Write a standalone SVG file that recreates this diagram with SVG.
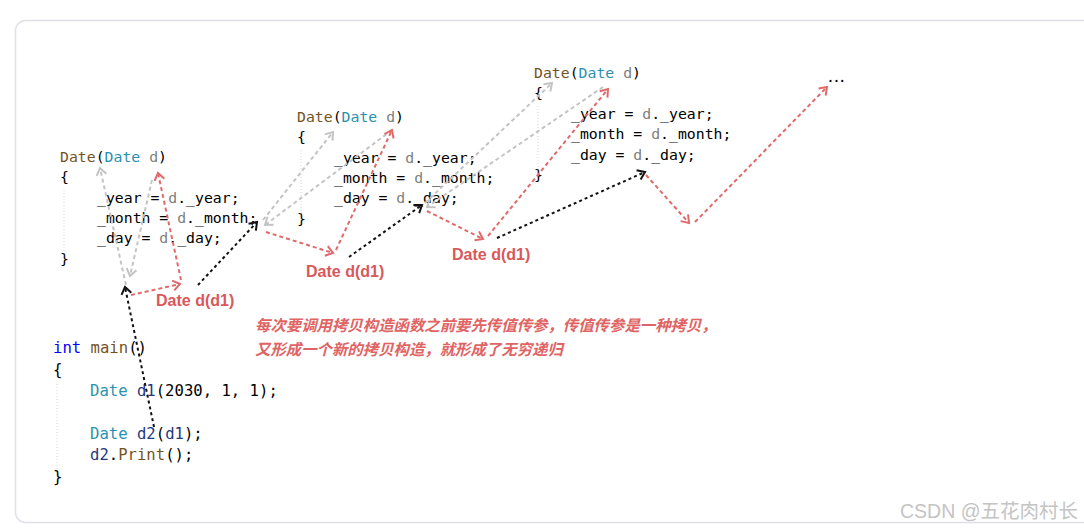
<svg xmlns="http://www.w3.org/2000/svg" width="1084" height="529" viewBox="0 0 1084 529">
<style>
.code{font-family:"DejaVu Sans Mono","Liberation Mono",monospace;font-size:14.8px;fill:#000;white-space:pre}
.big{font-size:15.6px}
.fn{fill:#74531f}.ty{fill:#2b91af}.pa{fill:#808080}.kw{fill:#0000ff}.lv{fill:#1f377f}
.guide{stroke:#d6d6d6;stroke-width:1;stroke-dasharray:1 2;fill:none}
.g{stroke:#c4c4c4;stroke-width:2;stroke-dasharray:4 3;fill:none;marker-end:url(#mg)}
.r{stroke:#e06a6a;stroke-width:2;stroke-dasharray:4 3;fill:none;marker-end:url(#mr)}
.b{stroke:#111;stroke-width:2;stroke-dasharray:3 3;fill:none;marker-end:url(#mb)}
.lbl{font-family:"Liberation Sans",Arial,sans-serif;font-weight:bold;font-size:16px;fill:#d9585a}
.note{font-family:"Noto Sans CJK SC",sans-serif;font-weight:bold;font-style:italic;font-size:15.4px;fill:#e06464}
.wm{font-family:"Liberation Sans","Noto Sans CJK SC",sans-serif;font-size:19.5px;fill:#c4c4c4}
</style>
<defs>
<marker id="mg" markerUnits="userSpaceOnUse" markerWidth="20" markerHeight="20" refX="0" refY="0" orient="auto" overflow="visible"><path d="M-7,-5 L0,0 L-7,5" fill="none" stroke="#c4c4c4" stroke-width="2" stroke-dasharray="none"/></marker>
<marker id="mr" markerUnits="userSpaceOnUse" markerWidth="20" markerHeight="20" refX="0" refY="0" orient="auto" overflow="visible"><path d="M-7,-5 L0,0 L-7,5" fill="none" stroke="#e06a6a" stroke-width="2" stroke-dasharray="none"/></marker>
<marker id="mb" markerUnits="userSpaceOnUse" markerWidth="20" markerHeight="20" refX="0" refY="0" orient="auto" overflow="visible"><path d="M-7,-5 L0,0 L-7,5" fill="none" stroke="#111" stroke-width="2" stroke-dasharray="none"/></marker>
</defs>
<rect x="0" y="0" width="1084" height="529" fill="#fff"/>
<rect x="15.5" y="20.5" width="1080" height="502" rx="10" fill="#fff" stroke="#e0e0e8" stroke-width="1.5"/>

<g id="block1">
<line class="guide" x1="64" y1="190" x2="64" y2="252"/>
<text class="code" x="60" y="162"><tspan class="fn">Date</tspan>(<tspan class="ty">Date</tspan> <tspan class="pa">d</tspan>)</text>
<text class="code" x="60" y="182">{</text>
<text class="code" x="97" y="203">_year = <tspan class="pa">d</tspan>._year;</text>
<text class="code" x="97" y="223">_month = <tspan class="pa">d</tspan>._month;</text>
<text class="code" x="97" y="243">_day = <tspan class="pa">d</tspan>._day;</text>
<text class="code" x="60" y="264">}</text>
</g>

<g id="block2">
<line class="guide" x1="301" y1="150" x2="301" y2="212"/>
<text class="code" x="297" y="122"><tspan class="fn">Date</tspan>(<tspan class="ty">Date</tspan> <tspan class="pa">d</tspan>)</text>
<text class="code" x="297" y="142">{</text>
<text class="code" x="334" y="163">_year = <tspan class="pa">d</tspan>._year;</text>
<text class="code" x="334" y="183">_month = <tspan class="pa">d</tspan>._month;</text>
<text class="code" x="334" y="203">_day = <tspan class="pa">d</tspan>._day;</text>
<text class="code" x="297" y="224">}</text>
</g>

<g id="block3">
<line class="guide" x1="538" y1="106" x2="538" y2="168"/>
<text class="code" x="534" y="78"><tspan class="fn">Date</tspan>(<tspan class="ty">Date</tspan> <tspan class="pa">d</tspan>)</text>
<text class="code" x="534" y="98">{</text>
<text class="code" x="571" y="119">_year = <tspan class="pa">d</tspan>._year;</text>
<text class="code" x="571" y="139">_month = <tspan class="pa">d</tspan>._month;</text>
<text class="code" x="571" y="160">_day = <tspan class="pa">d</tspan>._day;</text>
<text class="code" x="534" y="180">}</text>
</g>

<g id="ellipsis">
<text class="code" x="826" y="82" letter-spacing="-3">...</text>
</g>

<g id="main">
<line class="guide" x1="57" y1="384" x2="57" y2="470"/>
<text class="code big" x="53" y="353"><tspan class="kw">int</tspan> <tspan class="fn">main</tspan>()</text>
<text class="code big" x="53" y="375">{</text>
<text class="code big" x="90" y="396"><tspan class="ty">Date</tspan> <tspan class="lv">d1</tspan>(2030, 1, 1);</text>
<text class="code big" x="90" y="439"><tspan class="ty">Date</tspan> <tspan class="lv">d2</tspan>(<tspan class="lv">d1</tspan>);</text>
<text class="code big" x="90" y="460"><tspan class="lv">d2</tspan>.<tspan class="fn">Print</tspan>();</text>
<text class="code big" x="53" y="482">}</text>
</g>

<g id="labels">
<text class="lbl" x="156" y="306">Date d(d1)</text>
<text class="lbl" x="306" y="277">Date d(d1)</text>
<text class="lbl" x="452" y="260">Date d(d1)</text>
</g>

<g id="note">
<text class="note" x="255" y="331">每次要调用拷贝构造函数之前要先传值传参，传值传参是一种拷贝，</text>
<text class="note" x="255" y="355">又形成一个新的拷贝构造，就形成了无穷递归</text>
</g>

<g id="connectors">
<line class="b" x1="154" y1="427" x2="125" y2="287"/>
<line class="b" x1="198" y1="285" x2="257" y2="222"/>
<line class="b" x1="349" y1="257" x2="422" y2="205"/>
<line class="b" x1="497" y1="238" x2="645" y2="172"/>

<line class="g" x1="152" y1="180" x2="130" y2="276"/>
<line class="g" x1="126" y1="285" x2="100" y2="168"/>
<line class="g" x1="263" y1="220" x2="333" y2="132"/>
<line class="g" x1="392" y1="130" x2="265" y2="225"/>
<line class="g" x1="425" y1="203" x2="552" y2="83"/>
<line class="g" x1="603" y1="87" x2="427" y2="207"/>

<line class="r" x1="131" y1="295" x2="180" y2="284"/>
<line class="r" x1="181" y1="280" x2="158" y2="173"/>
<line class="r" x1="266" y1="232" x2="333" y2="253"/>
<line class="r" x1="336" y1="250" x2="392" y2="130"/>
<line class="r" x1="427" y1="211" x2="483" y2="239"/>
<line class="r" x1="488" y1="236" x2="608" y2="89"/>
<line class="r" x1="646" y1="175" x2="689" y2="223"/>
<line class="r" x1="695" y1="222" x2="827" y2="87"/>
</g>

<text class="wm" x="900" y="518">CSDN @五花肉村长</text>
</svg>
